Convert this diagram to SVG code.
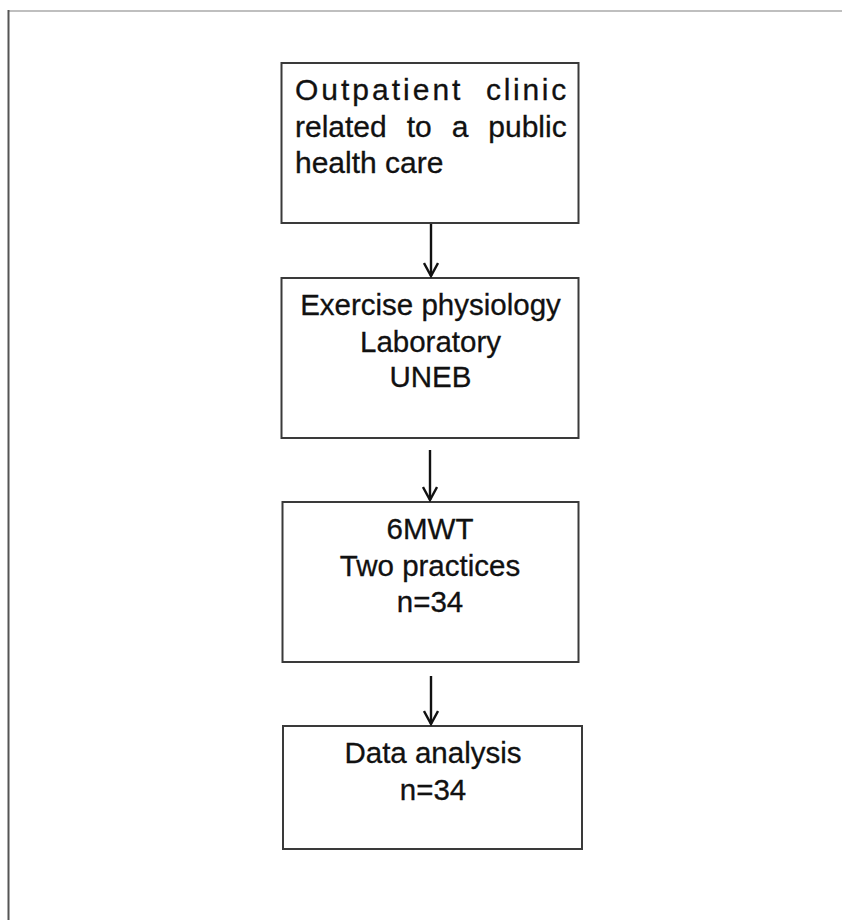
<svg xmlns="http://www.w3.org/2000/svg" width="842" height="920" viewBox="0 0 842 920">
<defs>
<style>
.box{fill:#fff;stroke:#3a3a3a;stroke-width:2}
.t{font-family:"Liberation Sans",Arial,sans-serif;font-size:29.5px;fill:#111;stroke:#111;stroke-width:0.3;text-anchor:middle}
.j{font-family:"Liberation Sans",Arial,sans-serif;font-size:30px;fill:#111;stroke:#111;stroke-width:0.3}
.conn{stroke:#111;stroke-width:2.4;fill:none}
</style>
<marker id="arr" viewBox="0 0 16 16" refX="14" refY="8" markerWidth="16" markerHeight="16" markerUnits="userSpaceOnUse" orient="auto">
<path d="M1,1 L14,8 L1,15" fill="none" stroke="#111" stroke-width="2.4"/>
</marker>
</defs>
<rect width="842" height="920" fill="#fff"/>
<g id="frame">
<line x1="8" y1="11" x2="842" y2="11" stroke="#aaa" stroke-width="1.5"/>
<line x1="8.5" y1="10" x2="8.5" y2="920" stroke="#555" stroke-width="2"/>
</g>
<g id="n1">
<rect class="box" x="281.5" y="63" width="297" height="160"/>
<text class="j" y="100"><tspan x="295" letter-spacing="3">Outpatient</tspan><tspan x="486" letter-spacing="2.7">clinic</tspan></text>
<text class="j" y="137"><tspan x="295">related</tspan><tspan x="406.7">to</tspan><tspan x="451.7">a</tspan><tspan x="488.3">public</tspan></text>
<text class="j" x="295" y="173">health care</text>
</g>
<g id="n2">
<rect class="box" x="281.5" y="278" width="297" height="160"/>
<text class="t" x="430.5" y="315">Exercise physiology</text>
<text class="t" x="430.5" y="351.7">Laboratory</text>
<text class="t" x="430.5" y="387.3">UNEB</text>
</g>
<g id="n3">
<rect class="box" x="282.5" y="502" width="296" height="160"/>
<text class="t" x="430" y="539.3">6MWT</text>
<text class="t" x="430" y="576">Two practices</text>
<text class="t" x="430" y="612.3">n=34</text>
</g>
<g id="n4">
<rect class="box" x="283" y="726" width="299" height="123"/>
<text class="t" x="433" y="763.3">Data analysis</text>
<text class="t" x="433" y="800">n=34</text>
</g>
<g id="connectors">
<line class="conn" x1="431" y1="224" x2="431" y2="276" marker-end="url(#arr)"/>
<line class="conn" x1="430" y1="450" x2="430" y2="500" marker-end="url(#arr)"/>
<line class="conn" x1="431" y1="676" x2="431" y2="724" marker-end="url(#arr)"/>
</g>
</svg>
